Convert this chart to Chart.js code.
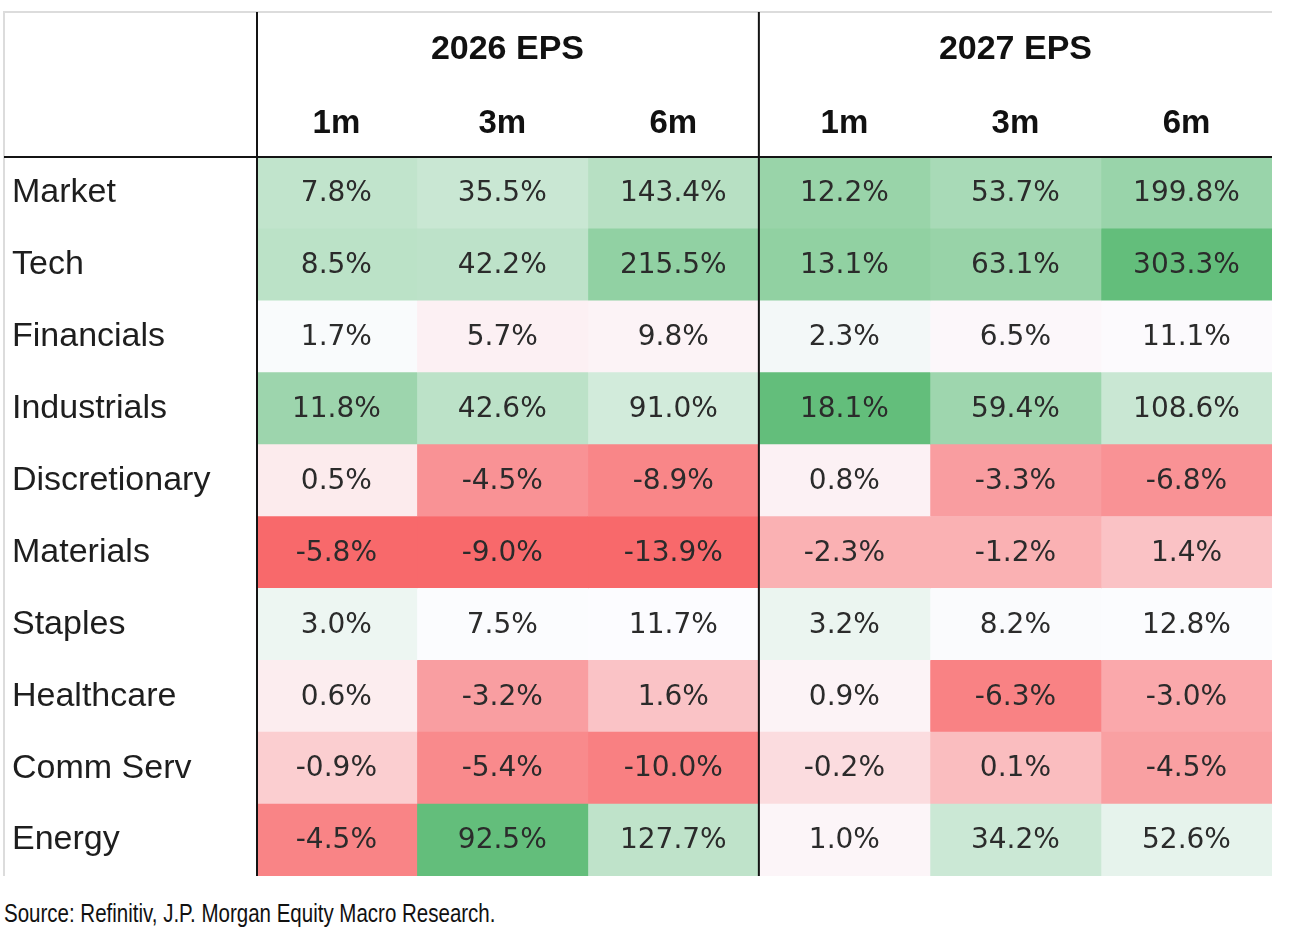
<!DOCTYPE html>
<html>
<head>
<meta charset="utf-8">
<title>EPS revisions heatmap</title>
<script src="https://cdn.jsdelivr.net/npm/chart.js@4.4.1/dist/chart.umd.min.js"></script>
<style>
  html, body { margin: 0; padding: 0; background: #fff; }
  #wrap { position: relative; width: 1298px; height: 940px; }
  #heat { position: absolute; left: 0; top: 0; }
  #source { position: absolute; left: 4px; top: 901px; font: 25px/25px "Liberation Sans", Arial, sans-serif; color: #111; white-space: nowrap; transform: scaleX(0.82); transform-origin: 0 0; }
</style>
</head>
<body>
<div id="wrap">
  <canvas id="heat" width="1298" height="880"></canvas>
  <div id="source">Source: Refinitiv, J.P. Morgan Equity Macro Research.</div>
</div>
<script>
'use strict';

var sectors = ['Market', 'Tech', 'Financials', 'Industrials', 'Discretionary', 'Materials', 'Staples', 'Healthcare', 'Comm Serv', 'Energy'];
var groupLabels = ['2026 EPS', '2027 EPS'];
var windowLabels = ['1m', '3m', '6m'];

// EPS revision, % - one array per column
var eps26_1m = [7.8, 8.5, 1.7, 11.8, 0.5, -5.8, 3.0, 0.6, -0.9, -4.5];
var eps26_3m = [35.5, 42.2, 5.7, 42.6, -4.5, -9.0, 7.5, -3.2, -5.4, 92.5];
var eps26_6m = [143.4, 215.5, 9.8, 91.0, -8.9, -13.9, 11.7, 1.6, -10.0, 127.7];
var eps27_1m = [12.2, 13.1, 2.3, 18.1, 0.8, -2.3, 3.2, 0.9, -0.2, 1.0];
var eps27_3m = [53.7, 63.1, 6.5, 59.4, -3.3, -1.2, 8.2, -6.3, 0.1, 34.2];
var eps27_6m = [199.8, 303.3, 11.1, 108.6, -6.8, 1.4, 12.8, -3.0, -4.5, 52.6];

var columns = [eps26_1m, eps26_3m, eps26_6m, eps27_1m, eps27_3m, eps27_6m];

/* excel style 3 colour scale: red - white - green, midpoint = median */
var RED = [248, 105, 107], MID = [252, 252, 255], GREEN = [99, 190, 123];

function median(arr) {
  var s = arr.slice().sort(function(a, b) { return a - b; });
  var n = s.length;
  return n % 2 ? s[(n - 1) / 2] : (s[n / 2 - 1] + s[n / 2]) / 2;
}

function mix(a, b, t) {
  return 'rgb(' + a.map(function(v, i) { return Math.round(v + (b[i] - v) * t); }).join(',') + ')';
}

// same window (1m/3m/6m) shares one scale over both years
var scales = windowLabels.map(function(w, k) {
  var all = columns[k].concat(columns[k + 3]);
  return { min: Math.min.apply(null, all), max: Math.max.apply(null, all), mid: median(all) };
});

function cellColor(v, k) {
  var s = scales[k];
  if (v <= s.mid) return mix(RED, MID, (v - s.min) / (s.mid - s.min));
  return mix(MID, GREEN, (v - s.mid) / (s.max - s.mid));
}

var datasets = columns.map(function(vals, c) {
  return {
    label: groupLabels[Math.floor(c / 3)] + ' ' + windowLabels[c % 3],
    data: vals.map(function() { return [c, c + 1]; }),
    values: vals,
    backgroundColor: vals.map(function(v) { return cellColor(v, c % 3); }),
    borderWidth: 0,
    barPercentage: 1,
    categoryPercentage: 1,
    grouped: false
  };
});

/* frame, black dividers and the numbers in the cells */
var tablePlugin = {
  id: 'tablePlugin',
  beforeDatasetsDraw: function(chart) {
    var ctx = chart.ctx, a = chart.chartArea, top = chart.scales.x2.top;
    var left = chart.scales.y.left - 8;
    ctx.save();
    ctx.strokeStyle = '#dcdcdc';
    ctx.lineWidth = 2;
    ctx.beginPath();
    ctx.moveTo(left, a.bottom);
    ctx.lineTo(left, top);
    ctx.lineTo(a.right, top);
    ctx.stroke();
    ctx.restore();
  },
  afterDatasetsDraw: function(chart) {
    var ctx = chart.ctx, a = chart.chartArea;
    ctx.save();
    ctx.font = '28px "DejaVu Sans", Verdana, sans-serif';
    ctx.fillStyle = '#2b2b2b';
    ctx.textAlign = 'center';
    ctx.textBaseline = 'middle';
    chart.data.datasets.forEach(function(ds, i) {
      chart.getDatasetMeta(i).data.forEach(function(bar, j) {
        var x0 = Math.max(Math.min(bar.base, bar.x), a.left);
        var x1 = Math.max(bar.base, bar.x);
        ctx.fillText(ds.values[j].toFixed(1) + '%', (x0 + x1) / 2, bar.y + 1);
      });
    });

    var top = chart.scales.x2.top;
    var left = chart.scales.y.left - 8;
    var split = chart.scales.x.getPixelForValue(3);
    ctx.strokeStyle = '#141414';
    ctx.lineWidth = 2;
    ctx.beginPath();
    ctx.moveTo(left, a.top);
    ctx.lineTo(a.right, a.top);
    ctx.moveTo(a.left + 1, top);
    ctx.lineTo(a.left + 1, a.bottom);
    ctx.moveTo(split, top);
    ctx.lineTo(split, a.bottom);
    ctx.stroke();
    ctx.restore();
  }
};

var X_MIN = 0.06;

new Chart(document.getElementById('heat'), {
  type: 'bar',
  data: { labels: sectors, datasets: datasets },
  plugins: [tablePlugin],
  options: {
    indexAxis: 'y',
    responsive: false,
    animation: false,
    devicePixelRatio: 1,
    layout: { padding: { left: 12, top: 12, right: 26, bottom: 4 } },
    plugins: { legend: { display: false }, tooltip: { enabled: false } },
    scales: {
      x: {
        type: 'linear',
        position: 'top',
        min: X_MIN,
        max: 6,
        weight: 0,
        grid: { display: false, drawTicks: false },
        border: { display: false },
        afterBuildTicks: function(scale) {
          scale.ticks = [(X_MIN + 1) / 2, 1.5, 2.5, 3.5, 4.5, 5.5].map(function(v) { return { value: v }; });
        },
        afterFit: function(scale) { scale.height = 72; },
        ticks: {
          autoSkip: false,
          maxRotation: 0,
          padding: 13,
          color: '#111',
          font: { family: '"Liberation Sans", Arial, sans-serif', size: 33, weight: 'bold' },
          callback: function(value, index) { return windowLabels[index % 3]; }
        }
      },
      x2: {
        type: 'linear',
        position: 'top',
        min: X_MIN,
        max: 6,
        weight: 1,
        grid: { display: false, drawTicks: false },
        border: { display: false },
        afterBuildTicks: function(scale) {
          scale.ticks = [(X_MIN + 3) / 2, 4.5].map(function(v) { return { value: v }; });
        },
        afterFit: function(scale) { scale.height = 73; },
        ticks: {
          autoSkip: false,
          maxRotation: 0,
          padding: 15,
          color: '#111',
          font: { family: '"Liberation Sans", Arial, sans-serif', size: 34, weight: 'bold' },
          callback: function(value, index) { return groupLabels[index]; }
        }
      },
      y: {
        type: 'category',
        offset: true,
        grid: { display: false, drawTicks: false },
        border: { display: false },
        afterFit: function(scale) {
          scale.width = 244;
          scale.paddingTop = 0;
          scale.paddingBottom = 0;
        },
        ticks: {
          autoSkip: false,
          crossAlign: 'far',
          padding: 0,
          color: '#1e1e1e',
          font: { family: '"Liberation Sans", Arial, sans-serif', size: 34 }
        }
      }
    }
  }
});
</script>
</body>
</html>
